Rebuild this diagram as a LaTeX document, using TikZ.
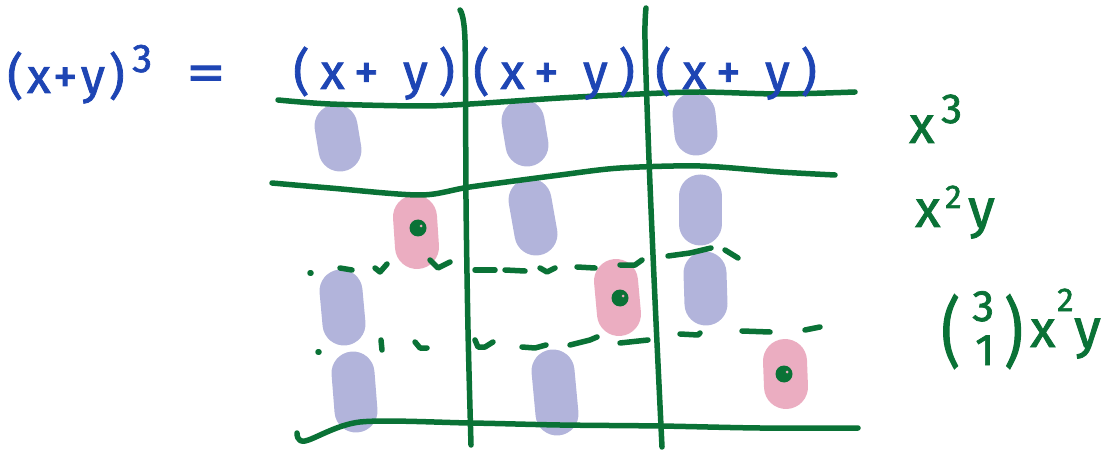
\documentclass[tikz,border=0pt]{standalone}
\usepackage{fontspec}
\setmainfont{Fira Sans}
\newfontfamily\handA[LetterSpace=22,FakeBold=1.6]{Fira Sans}
\newfontfamily\handB[LetterSpace=8,FakeBold=1.6]{Fira Sans}
\newfontfamily\handC[FakeBold=1.6]{Fira Sans}
\definecolor{inkblue}{HTML}{1E45B4}
\definecolor{inkgreen}{HTML}{0A7236}
\definecolor{lav}{HTML}{B2B4DB}
\definecolor{rose}{HTML}{EBADC1}
\begin{document}
\begin{tikzpicture}[x=1pt,y=-1pt]
\useasboundingbox (0,0) rectangle (1110,462);
\tikzset{
  gline/.style={draw=inkgreen, line width=5.5pt, line cap=round, line join=round},
  pill/.style={draw=lav, line width=43pt, line cap=round},
  rpill/.style={draw=rose, line width=44pt, line cap=round},
  gdot/.style={circle, fill=inkgreen, inner sep=0pt, minimum size=17pt},
  hilite/.style={circle, fill=rose, inner sep=0pt, minimum size=3pt},
  btext/.style={text=inkblue, inner sep=0pt, anchor=base west},
  gtext/.style={text=inkgreen, inner sep=0pt, anchor=base west}
}
% pills
\draw[pill] (336,126) -- (340,150);
\draw[pill] (523,121) -- (527,145);
\draw[pill] (694,114) -- (696,134);
\draw[rpill] (415,217) -- (417,247);
\draw[pill] (530,200) -- (536,234);
\draw[pill] (700,196) -- (700,224);
\draw[pill] (341,291) -- (344,324);
\draw[rpill] (616,281) -- (619,314);
\draw[pill] (705,273) -- (706,304);
\draw[pill] (353,373) -- (356,411);
\draw[pill] (553,371) -- (557,414);
\draw[rpill] (785,361) -- (786,387);
% marks
\node[gdot] (d1) at (418,228) {};
\node[gdot] (d2) at (620,298) {};
\node[gdot] (d3) at (784,374) {};
\node[hilite] (h1s) at (421,226) {};
\node[hilite] (h2s) at (623,296) {};
\node[hilite] (h3s) at (787,372) {};
% grid lines
\draw[gline] plot[smooth] coordinates {(460,10) (465,40) (466,200) (468,330) (471,445)};
\draw[gline] plot[smooth] coordinates {(646,8) (645,40) (649,160) (655,300) (662,447)};
\draw[gline] plot[smooth] coordinates {(278,100) (330,104) (420,106) (470,104) (560,98) (640,94) (700,92) (780,94) (855,92)};
\draw[gline] plot[smooth] coordinates {(272,183) (330,188) (420,195) (470,187) (560,175) (620,168) (700,166) (780,172) (835,175)};
\draw[gline] plot[smooth] coordinates {(297,433) (305,441) (360,422) (470,423) (560,425) (660,426) (760,428) (858,428)};
% upper dashed line
\draw[gline] (310,273) -- (311,273);
\draw[gline] (340,268) -- (352,270);
\draw[gline] (375,268) -- (380,272) -- (387,264);
\draw[gline] (430,260) -- (438,268) -- (450,262);
\draw[gline] (475,270) -- (495,270);
\draw[gline] (505,270) -- (525,271);
\draw[gline] (540,268) -- (547,272) -- (555,268);
\draw[gline] (577,267) -- (595,268);
\draw[gline] (620,265) -- (635,265) -- (642,260);
\draw[gline] (668,256) -- (690,253) -- (711,248);
\draw[gline] (725,250) -- (738,258);
% lower dashed line
\draw[gline] (318,352) -- (319,352);
\draw[gline] (381,340) -- (382,350);
\draw[gline] (415,342) -- (420,348) -- (427,348);
\draw[gline] (475,340) -- (478,347) -- (485,347) -- (493,342);
\draw[gline] (522,347) -- (535,348) -- (546,345);
\draw[gline] (570,345) -- (590,340) -- (597,337);
\draw[gline] (620,343) -- (648,340);
\draw[gline] (680,334) -- (698,335) -- (700,333);
\draw[gline] (742,331) -- (770,332);
\draw[gline] (805,330) -- (820,327);
% blue text
\node[btext, font=\handB\fontsize{49}{52}\selectfont] (lhs) at (7,93) {(x+y)};
\node[btext, font=\handB\fontsize{40}{44}\selectfont] (lhsexp) at (132,72) {3};
\node[btext, font=\handC\fontsize{54}{58}\selectfont, xscale=1.45] (eq) at (186,91) {=};
\node[btext, font=\handA\fontsize{50}{54}\selectfont] (h1) at (293,89) {(x+ y)};
\node[btext, font=\handA\fontsize{50}{54}\selectfont] (h2) at (473,89) {(x+ y)};
\node[btext, font=\handA\fontsize{50}{54}\selectfont] (h3) at (655,89) {(x+ y)};
% green labels
\node[gtext, font=\handC\fontsize{52}{56}\selectfont] (t1) at (909,143) {x};
\node[gtext, font=\handC\fontsize{42}{46}\selectfont] (t1e) at (941,123) {3};
\node[gtext, font=\handC\fontsize{52}{56}\selectfont] (t2) at (915,227) {x};
\node[gtext, font=\handC\fontsize{33}{36}\selectfont] (t2e) at (945,208) {2};
\node[gtext, font=\handC\fontsize{54}{56}\selectfont] (t2y) at (968,227) {y};
\node[gtext, font=\handC\fontsize{58}{60}\selectfont, yscale=1.3] (bl) at (941,358) {(};
\node[gtext, font=\handC\fontsize{44}{48}\selectfont] (b3) at (972,321) {3};
\node[gtext, font=\handC\fontsize{44}{48}\selectfont] (b1) at (975,365) {1};
\node[gtext, font=\handC\fontsize{58}{60}\selectfont, yscale=1.3] (br) at (1004,358) {)};
\node[gtext, font=\handC\fontsize{52}{56}\selectfont] (t3) at (1030,347) {x};
\node[gtext, font=\handC\fontsize{33}{36}\selectfont] (t3e) at (1057,311) {2};
\node[gtext, font=\handC\fontsize{54}{56}\selectfont] (t3y) at (1074,347) {y};
\end{tikzpicture}
\end{document}
